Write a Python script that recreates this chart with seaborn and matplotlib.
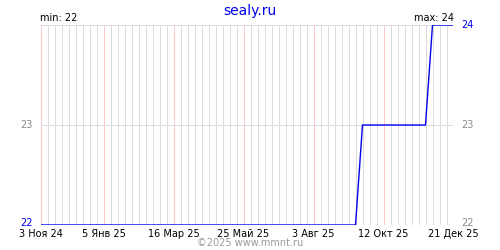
import matplotlib
matplotlib.use("Agg")
import matplotlib.pyplot as plt
import matplotlib.transforms as mtransforms
import seaborn as sns
import pandas as pd

# Data (weekly readings)
start_date = "2024-11-03"
values = [22] * 46 + [23] * 10 + [24] * 4
tick_dates = ["2024-11-03", "2025-01-05", "2025-03-16", "2025-05-25",
              "2025-08-03", "2025-10-12", "2025-12-21"]
tick_labels = ["3 Ноя 24", "5 Янв 25", "16 Мар 25", "25 Май 25",
               "3 Авг 25", "12 Окт 25", "21 Дек 25"]
left_ticks = [22, 23]
right_ticks = [22, 23, 24]
title = "sealy.ru"
min_label = "min: 22"
max_label = "max: 24"
footer = "©2025 www.mmnt.ru"

dates = pd.date_range(start_date, periods=len(values), freq="7D")
df = pd.DataFrame({"date": dates, "value": values})

sns.set_style("white")
plt.rcParams["font.family"] = ["DejaVu Sans"]

BLUE = "#0000ee"
GRAY = "#888888"
PX = 0.72  # one pixel in points at 100 dpi

fig = plt.figure(figsize=(5, 2.5), dpi=100)
ax = fig.add_axes([0.081, 0.1, 0.826, 0.8])

# weekly grid lines
for d in dates:
    ax.axvline(d, color="#dcdcdc", lw=PX, zorder=0, antialiased=False)
for d in pd.to_datetime(tick_dates):
    ax.axvline(d, color="#ffc8c8", lw=PX, zorder=0.5, antialiased=False)
for yv in right_ticks:
    ax.axhline(yv, color="#dcdcdc", lw=PX, zorder=0.6, antialiased=False)

sns.lineplot(data=df, x="date", y="value", ax=ax, color=BLUE, lw=1.0,
             zorder=3)

ax.set_xlim(dates[0], dates[-1])
ax.set_ylim(22, 24)
for s in ax.spines.values():
    s.set_visible(False)

ax.set_xticks(pd.to_datetime(tick_dates))
ax.set_xticklabels(tick_labels, fontsize=7, color="black")
ax.set_xlabel("")
ax.set_ylabel("")
ax.tick_params(axis="x", length=0, pad=3)
ax.set_yticks([])

trans_l = ax.get_yaxis_transform()
up = mtransforms.ScaledTranslation(0, 2 / 100, fig.dpi_scale_trans)
for v in left_ticks:
    ax.text(-0.018, v, str(v), transform=trans_l + (up if v == 22 else mtransforms.IdentityTransform()),
            ha="right", va="center", fontsize=7,
            color=BLUE if v == 22 else GRAY)
for v in right_ticks:
    ax.text(1.018, v, str(v), transform=trans_l + (up if v == 22 else mtransforms.IdentityTransform()),
            ha="left", va="center", fontsize=7,
            color=BLUE if v == 24 else GRAY)

fig.text(0.5, 0.958, title, ha="center", va="center", fontsize=10,
         color=BLUE)
fig.text(0.081, 0.928, min_label, ha="left", va="center", fontsize=7,
         color="black")
fig.text(0.907, 0.928, max_label, ha="right", va="center", fontsize=7,
         color="black")
fig.text(0.5, 0.028, footer, ha="center", va="center", fontsize=7,
         color="#999999")

fig.savefig("out.png", dpi=100)
